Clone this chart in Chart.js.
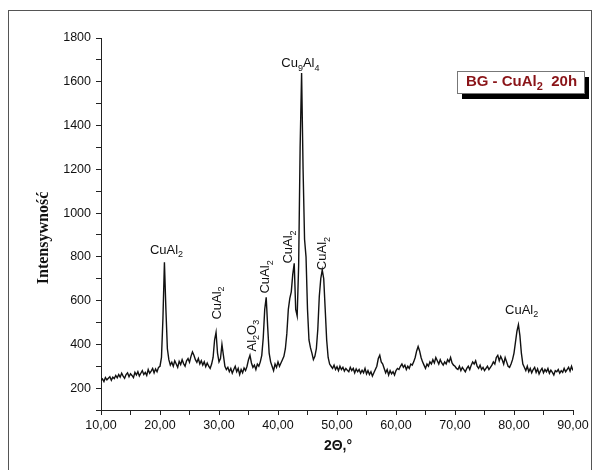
<!DOCTYPE html>
<html>
<head>
<meta charset="utf-8">
<script src="https://cdn.jsdelivr.net/npm/chart.js@4"></script>
<style>
  body { margin: 0; background: #fff; }
  #wrap { position: relative; width: 598px; height: 470px; overflow: hidden; }
  #frame { position: absolute; left: 8px; top: 10px; width: 584px; height: 480px; border: 1px solid #555; box-sizing: border-box; }
  #xrd { position: absolute; left: 0; top: 0; }
</style>
</head>
<body>
<div id="wrap">
  <div id="frame"></div>
  <canvas id="xrd" width="598" height="470"></canvas>
</div>
<script>
// siatka pomiarowa 2Θ (co 0,25°)
const startAngle = 10;
const stepAngle = 0.25;

// intensywność
const intensity = [
  235,242,230,248,238,245,252,236,250,244,258,247,262,250,268,255,245,262,270,252,
  266,258,248,272,260,275,255,268,280,262,272,258,285,268,278,290,270,288,275,295,300,
  340,520,775,560,380,330,305,318,300,325,
  310,295,322,308,330,312,300,325,335,318,
  345,365,350,330,318,335,310,325,305,320,
  298,315,300,290,310,340,420,455,360,320,
  335,400,350,300,
  285,295,275,290,268,285,300,275,290,262,
  285,270,292,280,300,330,350,315,295,305,
  285,310,300,320,350,430,560,615,480,360,
  320,300,280,310,295,320,300,315,330,345,
  380,450,560,610,640,720,770,560,530,760,
  1300,1640,1200,880,800,560,420,385,360,330,
  345,380,470,620,700,740,700,560,420,340,
  310,300,
  290,305,285,298,280,300,285,295,278,290,
  282,275,295,280,290,270,288,275,285,268,
  282,270,290,265,280,262,275,255,270,285,
  300,335,350,320,310,290,270,285,260,280,
  265,275,260,280,290,285,300,310,295,305,
  285,300,290,310,305,320,340,370,390,370,
  340,320,305,290,310,300,320,310,330,315,
  340,325,310,330,315,305,320,310,330,320,
  340,315,305,300,290,285,300,280,295,285,
  275,290,300,285,305,320,310,325,300,290,
  305,285,295,280,290,300,285,295,305,320,
  310,340,350,325,345,330,310,340,320,300,
  295,310,330,360,410,460,490,440,360,310,
  295,280,300,275,290,270,285,295,272,288,
  265,280,290,270,285,275,290,268,282,272,
  260,280,275,285,268,280,272,290,275,285,
  295,278,300,280
];

const xTicks = [10, 20, 30, 40, 50, 60, 70, 80, 90];
const yTicks = [200, 400, 600, 800, 1000, 1200, 1400, 1600, 1800];

// opisy refleksów: [tekst, indeks dolny?]
const peakLabels = [
  { parts: [['CuAl', 0], ['2', 1]], x: 21.1, y: 831, rot: false },
  { parts: [['CuAl', 0], ['2', 1]], x: 29.7, y: 589, rot: true },
  { parts: [['Al', 0], ['2', 1], ['O', 0], ['3', 1]], x: 35.6, y: 440, rot: true },
  { parts: [['CuAl', 0], ['2', 1]], x: 37.9, y: 708, rot: true },
  { parts: [['CuAl', 0], ['2', 1]], x: 41.8, y: 845, rot: true },
  { parts: [['Cu', 0], ['9', 1], ['Al', 0], ['4', 1]], x: 43.8, y: 1682, rot: false },
  { parts: [['CuAl', 0], ['2', 1]], x: 47.6, y: 815, rot: true },
  { parts: [['CuAl', 0], ['2', 1]], x: 81.3, y: 557, rot: false }
];

const points = intensity.map((v, i) => ({ x: startAngle + i * stepAngle, y: v }));

const sansFont = "Arial, 'Liberation Sans', sans-serif";

// rysuje tekst z indeksami dolnymi, wycentrowany w (0,0)
function drawRich(ctx, parts, size, bold) {
  const w = bold ? 'bold ' : '';
  const mainFont = w + size + 'px ' + sansFont;
  const subFont = w + Math.round(size * 0.72) + 'px ' + sansFont;
  let total = 0;
  parts.forEach(p => {
    ctx.font = p[1] ? subFont : mainFont;
    total += ctx.measureText(p[0]).width;
  });
  let x = -total / 2;
  ctx.textAlign = 'left';
  ctx.textBaseline = 'middle';
  parts.forEach(p => {
    ctx.font = p[1] ? subFont : mainFont;
    ctx.fillText(p[0], x, p[1] ? size * 0.35 : 0);
    x += ctx.measureText(p[0]).width;
  });
}

const decorPlugin = {
  id: 'decor',
  afterDraw(chart) {
    const ctx = chart.ctx;
    const xs = chart.scales.x;
    const ys = chart.scales.y;

    // opisy pików
    ctx.save();
    ctx.fillStyle = '#111';
    peakLabels.forEach(lb => {
      ctx.save();
      ctx.translate(xs.getPixelForValue(lb.x), ys.getPixelForValue(lb.y));
      if (lb.rot) ctx.rotate(-Math.PI / 2);
      drawRich(ctx, lb.parts, 13, false);
      ctx.restore();
    });
    ctx.restore();

    // tytuły osi
    ctx.save();
    ctx.fillStyle = '#111';
    ctx.textAlign = 'center';
    ctx.textBaseline = 'middle';
    ctx.font = "bold 16px 'Times New Roman', 'Liberation Serif', serif";
    ctx.translate(44, 238);
    ctx.rotate(-Math.PI / 2);
    ctx.fillText('Intensywność', 0, 0);
    ctx.restore();

    ctx.save();
    ctx.fillStyle = '#111';
    ctx.textAlign = 'center';
    ctx.textBaseline = 'middle';
    ctx.font = 'bold 14px ' + sansFont;
    ctx.fillText('2Θ,°', 338, 446);
    ctx.restore();

    // ramka z nazwą próbki
    const bx = 457, by = 71, bw = 127, bh = 22;
    ctx.save();
    ctx.fillStyle = '#000';
    ctx.fillRect(bx + 5, by + 6, bw, bh);
    ctx.fillStyle = '#fff';
    ctx.fillRect(bx, by, bw, bh);
    ctx.strokeStyle = '#777';
    ctx.lineWidth = 1;
    ctx.strokeRect(bx + 0.5, by + 0.5, bw, bh);
    ctx.fillStyle = '#8a1418';
    ctx.translate(bx + bw / 2 + 1, by + bh / 2);
    drawRich(ctx, [['BG - CuAl', 0], ['2', 1], ['  20h', 0]], 15, true);
    ctx.restore();
  }
};

new Chart(document.getElementById('xrd'), {
  type: 'line',
  data: {
    datasets: [{
      data: points,
      borderColor: '#111',
      borderWidth: 1.4,
      pointRadius: 0,
      tension: 0,
      fill: false
    }]
  },
  options: {
    responsive: false,
    animation: false,
    events: [],
    layout: { padding: { left: 0, top: 38, right: 25, bottom: 0 } },
    plugins: { legend: { display: false }, tooltip: { enabled: false } },
    scales: {
      x: {
        type: 'linear',
        min: 10,
        max: 90,
        afterFit: s => { s.height = 60; },
        afterBuildTicks: s => {
          s.ticks = [];
          for (let v = 10; v <= 90; v += 5) s.ticks.push({ value: v });
        },
        ticks: {
          autoSkip: false,
          maxRotation: 0,
          padding: 3,
          color: '#111',
          font: { family: sansFont, size: 12.5 },
          callback: v => xTicks.includes(v) ? v.toFixed(2).replace('.', ',') : ''
        },
        grid: { drawOnChartArea: false, tickLength: 5, color: '#222' },
        border: { color: '#222', width: 1 }
      },
      y: {
        min: 100,
        max: 1800,
        afterFit: s => { s.width = 101; },
        afterBuildTicks: s => {
          s.ticks = [];
          for (let v = 100; v <= 1800; v += 100) s.ticks.push({ value: v });
        },
        ticks: {
          autoSkip: false,
          padding: 5,
          color: '#111',
          font: { family: sansFont, size: 12.5 },
          callback: v => yTicks.includes(v) ? String(v) : ''
        },
        grid: { drawOnChartArea: false, tickLength: 5, color: '#222' },
        border: { color: '#222', width: 1 }
      }
    }
  },
  plugins: [decorPlugin]
});
</script>
</body>
</html>
